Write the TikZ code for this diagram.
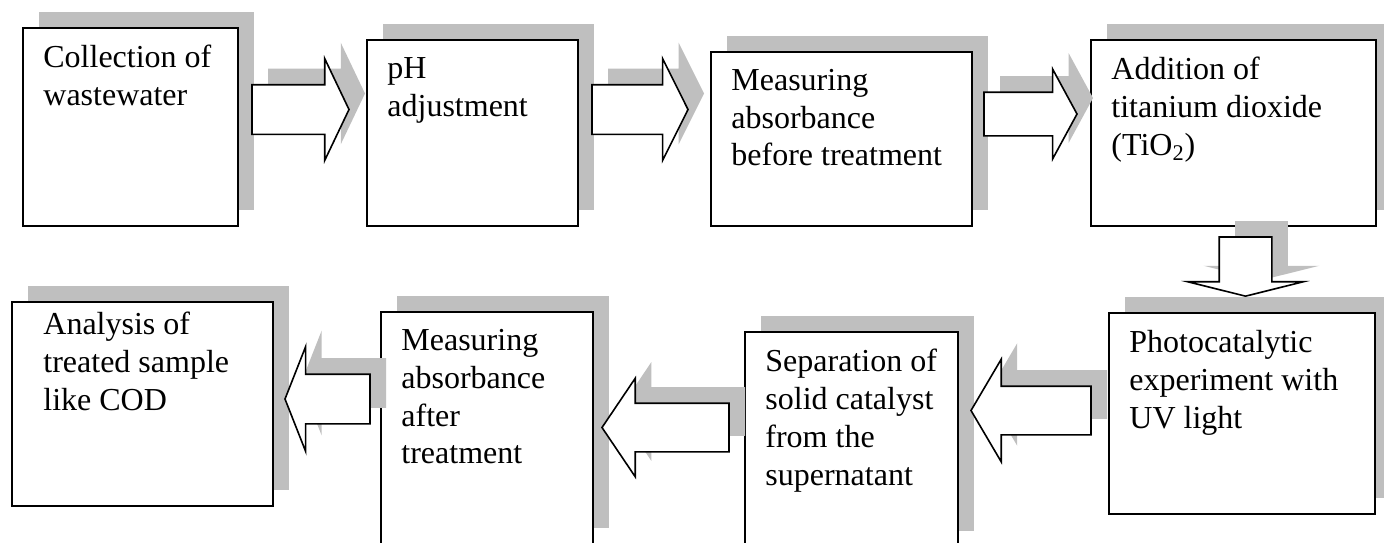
\documentclass[tikz,border=0pt]{standalone}
\usepackage{fontspec}
\setmainfont{Liberation Serif}
\usepackage{xcolor}
\usepackage{tikz}
\usetikzlibrary{shapes.arrows,shadows}

\begin{document}
\begin{tikzpicture}[x=0.5pt, y=-0.5pt,
    stepbox/.style={draw, line width=1pt, fill=white, inner sep=0pt, outer sep=0pt,
        general shadow={fill=gray!50, shadow xshift=8pt, shadow yshift=8pt}},
    flow/.style={single arrow, draw, line width=0.8pt, fill=white, outer sep=0pt, anchor=tail,
        general shadow={fill=gray!50, shadow xshift=8pt, shadow yshift=8pt}},
    txt/.style={anchor=north west, inner sep=0pt, align=left, xshift=10pt, yshift=-8.5pt,
        font=\fontsize{16}{18.85}\selectfont}]
    \useasboundingbox (0,0) rectangle (1384,542);
    % Steps, top row
    \node[stepbox, minimum width=107.5pt, minimum height=99pt]  (b1) at ( 130.5, 127.0) {};
    \node[txt] (t1) at (b1.north west) {Collection of\\wastewater};
    \node[stepbox, minimum width=105.5pt, minimum height=93pt]  (b2) at ( 472.5, 133.0) {};
    \node[txt] (t2) at (b2.north west) {pH\\adjustment};
    \node[stepbox, minimum width=130.5pt, minimum height=87pt]  (b3) at ( 841.5, 139.0) {};
    \node[txt] (t3) at (b3.north west) {Measuring\\absorbance\\before treatment};
    \node[stepbox, minimum width=142.5pt, minimum height=93pt]  (b4) at (1233.5, 133.0) {};
    \node[txt] (t4) at (b4.north west) {Addition of\\titanium dioxide\\(TiO\textsubscript{2})};
    % Steps, bottom row
    \node[stepbox, minimum width=133pt,   minimum height=100.5pt] (b5) at (1242.0, 413.5) {};
    \node[txt] (t5) at (b5.north west) {Photocatalytic\\experiment with\\UV light};
    \node[stepbox, minimum width=106.5pt, minimum height=107.5pt] (b6) at ( 851.5, 439.5) {};
    \node[txt] (t6) at (b6.north west) {Separation of\\solid catalyst\\from the\\supernatant};
    \node[stepbox, minimum width=106pt,   minimum height=116pt]   (b7) at ( 487.0, 428.0) {};
    \node[txt] (t7) at (b7.north west) {Measuring\\absorbance\\after\\treatment};
    \node[stepbox, minimum width=130.5pt, minimum height=102pt]   (b8) at ( 142.5, 404.0) {};
    \node[txt, xshift=5.5pt, yshift=3.5pt] (t8) at (b8.north west) {Analysis of\\treated sample\\like COD};
    % Arrows (placed by their tails)
    % collection to pH
    \node[flow, inner sep=12pt, minimum height=48.5pt, single arrow head extend=13pt,
        single arrow tip angle=129] (a1) at ( 252.0, 109.5) {};
    % pH to absorbance
    \node[flow, inner sep=12pt, minimum height=48pt, single arrow head extend=13pt,
        single arrow tip angle=127] (a2) at ( 592.0, 109.5) {};
    % absorbance to TiO2
    \node[flow, inner sep=10.5pt, minimum height=46.5pt, single arrow head extend=11.5pt,
        single arrow tip angle=123] (a3) at ( 984.0, 114.0) {};
    % TiO2 down to UV
    \node[flow, inner sep=12.75pt, minimum height=27.5pt, single arrow head extend=15.75pt,
        single arrow tip angle=152, shape border rotate=270] (a4) at (1245.5, 237.0) {};
    % UV to separation
    \node[flow, inner sep=11.75pt, minimum height=60pt, single arrow head extend=13.5pt,
        single arrow tip angle=119, shape border rotate=180] (a5) at (1091.0, 410.5) {};
    % separation to absorbance
    \node[flow, inner sep=11.75pt, minimum height=63.5pt, single arrow head extend=12.5pt,
        single arrow tip angle=112, shape border rotate=180] (a6) at ( 729.0, 427.5) {};
    % absorbance to analysis
    \node[flow, inner sep=12pt, minimum height=42.5pt, single arrow head extend=13.75pt,
        single arrow tip angle=137, shape border rotate=180] (a7) at ( 370.0, 399.0) {};
\end{tikzpicture}
\end{document}
